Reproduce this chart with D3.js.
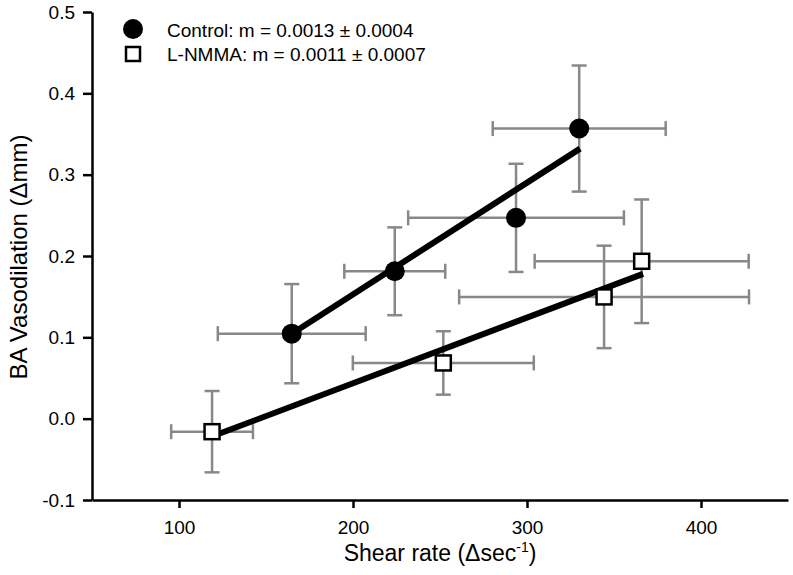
<!DOCTYPE html>
<html><head><meta charset="utf-8">
<script src="https://cdn.jsdelivr.net/npm/d3@7"></script>
<style>body{margin:0;background:#fff}svg{display:block}text{font-family:"Liberation Sans",Arial,sans-serif}</style>
</head><body>
<script>
const controlX = [164.8, 224, 293.7, 330];
const controlY = [0.1045, 0.1812, 0.2469, 0.3567];
const controlXErr = [42.5, 29, 62, 49.7];
const controlYErr = [0.061, 0.054, 0.0665, 0.0775];
const lnmmaX = [119, 251.9, 344.3, 365.9];
const lnmmaY = [-0.016, 0.0685, 0.1497, 0.1935];
const lnmmaXErr = [23.5, 52, 83.3, 61.5];
const lnmmaYErr = [0.05, 0.039, 0.063, 0.076];
const controlFit = [[164.8, 0.1045], [330.5, 0.332]];
const lnmmaFit = [[118.8, -0.022], [366.7, 0.178]];
const xTicks = [100, 200, 300, 400];
const yTicks = [-0.1, 0.0, 0.1, 0.2, 0.3, 0.4, 0.5];
const legendLabels = ["Control: m = 0.0013 \u00b1 0.0004", "L-NMMA: m = 0.0011 \u00b1 0.0007"];

const W = 793, H = 575;
const svg = d3.select("body").append("svg").attr("width", W).attr("height", H);
const x = d3.scaleLinear().domain([50, 450]).range([92, 788]);
const y = d3.scaleLinear().domain([-0.1, 0.5]).range([500, 12]);

// axes
const xAxis = svg.append("g").attr("transform", "translate(0,500)")
  .call(d3.axisBottom(x).tickValues(xTicks).tickSize(8).tickSizeOuter(0).tickPadding(13).tickFormat(d => String(d)));
const yAxis = svg.append("g").attr("transform", "translate(92,0)")
  .call(d3.axisLeft(y).tickValues(yTicks).tickSize(9).tickSizeOuter(0).tickPadding(8).tickFormat(d => d.toFixed(1)));
[xAxis, yAxis].forEach(g => {
  g.select(".domain").attr("stroke", "#000").attr("stroke-width", 2.5);
  g.selectAll(".tick line").attr("stroke", "#000").attr("stroke-width", 2.5);
  g.selectAll(".tick text").attr("fill", "#000").attr("font-size", 19).attr("font-family", "Liberation Sans, Arial, sans-serif");
});

// axis labels
const xl = svg.append("text").attr("x", 440).attr("y", 561).attr("text-anchor", "middle").attr("font-size", 23).attr("fill", "#000");
xl.append("tspan").text("Shear rate (\u0394sec");
xl.append("tspan").attr("dy", -9).attr("font-size", 14).text("-1");
xl.append("tspan").attr("dy", 9).text(")");
svg.append("text").attr("transform", "translate(27,257) rotate(-90)").attr("text-anchor", "middle")
  .attr("font-size", 24).attr("fill", "#000").text("BA Vasodilation (\u0394mm)");

const errColor = "#888";
function errBars(xs, ys, xe, ye) {
  const g = svg.append("g").attr("stroke", errColor).attr("stroke-width", 2.5).attr("fill", "none");
  const cap = 7.5;
  xs.forEach((xv, i) => {
    const yv = ys[i];
    const x0 = x(xv - xe[i]), x1 = x(xv + xe[i]), yc = y(yv);
    const y0 = y(yv - ye[i]), y1 = y(yv + ye[i]), xc = x(xv);
    g.append("line").attr("x1", x0).attr("x2", x1).attr("y1", yc).attr("y2", yc);
    g.append("line").attr("x1", x0).attr("x2", x0).attr("y1", yc - cap).attr("y2", yc + cap);
    g.append("line").attr("x1", x1).attr("x2", x1).attr("y1", yc - cap).attr("y2", yc + cap);
    g.append("line").attr("x1", xc).attr("x2", xc).attr("y1", y0).attr("y2", y1);
    g.append("line").attr("x1", xc - cap).attr("x2", xc + cap).attr("y1", y0).attr("y2", y0);
    g.append("line").attr("x1", xc - cap).attr("x2", xc + cap).attr("y1", y1).attr("y2", y1);
  });
}
errBars(controlX, controlY, controlXErr, controlYErr);
errBars(lnmmaX, lnmmaY, lnmmaXErr, lnmmaYErr);

const line = d3.line().x(d => x(d[0])).y(d => y(d[1]));
[controlFit, lnmmaFit].forEach(f => {
  svg.append("path").attr("d", line(f)).attr("stroke", "#000").attr("stroke-width", 6).attr("fill", "none");
});

// markers
svg.append("g").selectAll("circle").data(controlX).join("circle")
  .attr("cx", d => x(d)).attr("cy", (d, i) => y(controlY[i])).attr("r", 10).attr("fill", "#000");
const sq = 15;
svg.append("g").selectAll("rect").data(lnmmaX).join("rect")
  .attr("x", d => x(d) - sq / 2).attr("y", (d, i) => y(lnmmaY[i]) - sq / 2)
  .attr("width", sq).attr("height", sq).attr("fill", "#fff").attr("stroke", "#000").attr("stroke-width", 2.5);

// legend
const lg = svg.append("g");
lg.append("circle").attr("cx", 133).attr("cy", 29).attr("r", 10).attr("fill", "#000");
lg.append("rect").attr("x", 126).attr("y", 47).attr("width", 14).attr("height", 14).attr("fill", "#fff").attr("stroke", "#000").attr("stroke-width", 2.5);
legendLabels.forEach((t, i) => {
  lg.append("text").attr("x", 167).attr("y", 36.5 + i * 24.5).attr("font-size", 19).attr("fill", "#000").text(t);
});
</script>
</body></html>
